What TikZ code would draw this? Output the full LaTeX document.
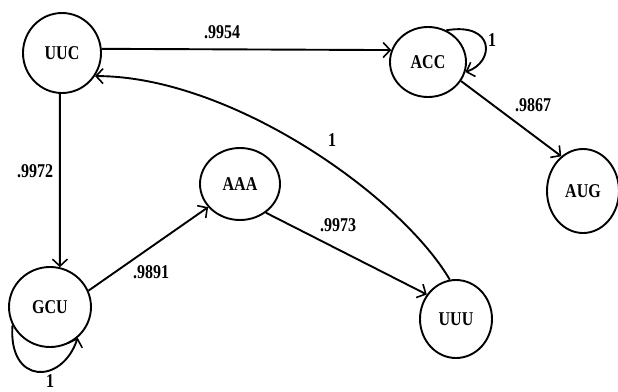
\documentclass[tikz,border=0pt]{standalone}
\usepackage{fontspec}
\usepackage{graphicx}
\setmainfont{Liberation Serif}
\usetikzlibrary{arrows.meta,shapes.geometric}
\newcommand{\tx}[1]{\scalebox{1}[1.22]{\bfseries #1}}
\begin{document}
\begin{tikzpicture}[x=1pt,y=-1pt,
  state/.style={draw,ellipse,line width=1.9pt,inner sep=0pt,font=\fontsize{16}{19}\selectfont},
  edge/.style={line width=1.9pt,-{Straight Barb[length=7pt,width=15pt,line width=1.6pt]}},
  lbl/.style={font=\fontsize{16}{19}\selectfont,inner sep=0pt}]
\useasboundingbox (0,0) rectangle (618,391);
\node[state,minimum width=78pt,minimum height=80pt] (UUC) at (62,53) {\tx{UUC}};
\node[state,minimum width=76pt,minimum height=70pt] (ACC) at (428,62) {\tx{ACC}};
\node[state,minimum width=72pt,minimum height=84pt] (AUG) at (583,191) {\tx{AUG}};
\node[state,minimum width=80pt,minimum height=72pt] (AAA) at (240,184) {\tx{AAA}};
\node[state,minimum width=82pt,minimum height=80pt] (GCU) at (50,307) {\tx{GCU}};
\node[state,minimum width=72pt,minimum height=78pt] (UUU) at (456,319) {\tx{UUU}};
\draw[edge] (UUC.6) -- (ACC.162);
\draw[edge] (UUC.267) -- (GCU.76);
\draw[edge] (GCU.23) -- (AAA.216);
\draw[edge] (AAA.312) -- (UUU.140);
\draw[edge] (UUU.99) .. controls (400,195) and (230,76) .. (UUC.325);
\draw[edge] (ACC.330) -- (AUG.122);
\draw[edge] (ACC.60) .. controls (495,22) and (495,62) .. (ACC.345);
\draw[edge] (GCU.206) .. controls (8,385) and (62,385) .. (GCU.312);
\node[lbl] (l1) at (222,32) {\tx{.9954}};
\node[lbl] (l2) at (35,171) {\tx{.9972}};
\node[lbl] (l3) at (151,272) {\tx{.9891}};
\node[lbl] (l4) at (338,225) {\tx{.9973}};
\node[lbl] (l5) at (332,140) {\tx{1}};
\node[lbl] (l6) at (533,105) {\tx{.9867}};
\node[lbl] (l7) at (492,40) {\tx{1}};
\node[lbl] (l8) at (50,381) {\tx{1}};
\end{tikzpicture}
\end{document}
